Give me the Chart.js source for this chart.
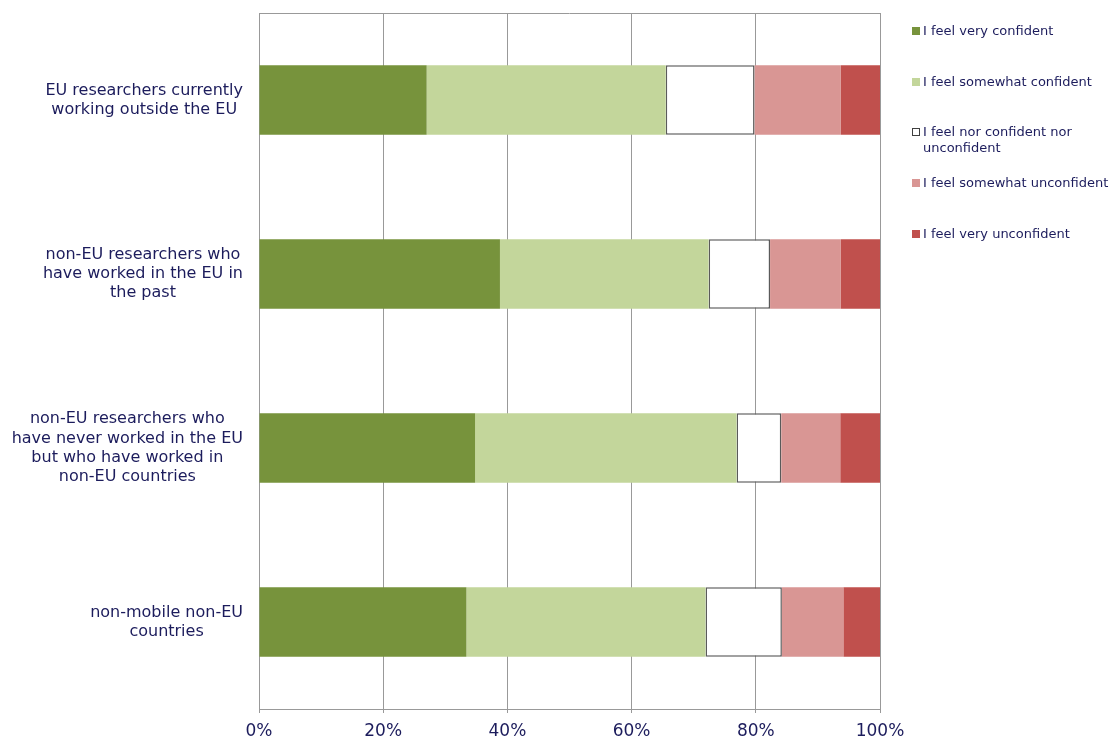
<!DOCTYPE html>
<html>
<head>
<meta charset="utf-8">
<script src="https://cdn.jsdelivr.net/npm/chart.js@4.4.1/dist/chart.umd.min.js"></script>
<style>
html,body{margin:0;padding:0;background:#fff;}
#wrap{width:1112px;height:738px;position:relative;}
</style>
</head>
<body>
<div id="wrap"><canvas id="c" width="1112" height="738"></canvas></div>
<script>
const categories = [
  ["EU researchers currently", "working outside the EU"],
  ["non-EU researchers who", "have worked in the EU in", "the past"],
  ["non-EU researchers who", "have never worked in the EU", "but who have worked in", "non-EU countries"],
  ["non-mobile non-EU", "countries"]
];
const seriesNames = [
  ["I feel very confident"],
  ["I feel somewhat confident"],
  ["I feel nor confident nor", "unconfident"],
  ["I feel somewhat unconfident"],
  ["I feel very unconfident"]
];
const veryConfident       = [27.0, 38.8, 34.8, 33.4];
const somewhatConfident   = [38.5, 33.6, 42.1, 38.5];
const neither             = [14.3,  9.9,  7.2, 12.3];
const somewhatUnconfident = [13.9, 11.4,  9.5,  9.9];
const veryUnconfident     = [ 6.3,  6.3,  6.4,  5.9];
const tickLabels = ["0%", "20%", "40%", "60%", "80%", "100%"];

const TEXT = '#1c1c5c';
const FONT = '"DejaVu Sans", Verdana, sans-serif';
const fills = ['#77933c', '#c3d69b', '#ffffff', '#d99694', '#c0504d'];
const borders = ['#77933c', '#c3d69b', '#5a5a5a', '#d99694', '#c0504d'];
const borderW = [0, 0, 1.5, 0, 0];
const values = [veryConfident, somewhatConfident, neither, somewhatUnconfident, veryUnconfident];

const datasets = values.map((v, i) => ({
  label: seriesNames[i].join(' '),
  data: v,
  backgroundColor: fills[i],
  borderColor: borders[i],
  borderWidth: borderW[i],
  borderSkipped: false,
  categoryPercentage: 0.4,
  barPercentage: 1.0
}));

const customDraw = {
  id: 'customDraw',
  afterDraw(chart) {
    const ctx = chart.ctx;
    const area = chart.chartArea;
    const ys = chart.scales.y;
    ctx.save();
    // top border line
    ctx.strokeStyle = '#999999';
    ctx.lineWidth = 1;
    ctx.beginPath();
    ctx.moveTo(area.left, area.top + 0.5);
    ctx.lineTo(area.right, area.top + 0.5);
    ctx.stroke();
    // category labels
    ctx.fillStyle = TEXT;
    ctx.font = '16px ' + FONT;
    ctx.textAlign = 'center';
    ctx.textBaseline = 'middle';
    const lh = 19.3;
    const rightEdge = area.left - 16;
    categories.forEach((lines, i) => {
      const yc = ys.getPixelForValue(i);
      let maxW = 0;
      lines.forEach(l => { maxW = Math.max(maxW, ctx.measureText(l).width); });
      const xc = rightEdge - maxW / 2;
      const y0 = yc - (lines.length - 1) * lh / 2;
      lines.forEach((l, k) => ctx.fillText(l, xc, y0 + k * lh));
    });
    // legend
    ctx.font = '13px ' + FONT;
    ctx.textAlign = 'left';
    const legY = [31, 82, 132, 183, 234];
    chart.data.datasets.forEach((ds, i) => {
      const y = legY[i];
      ctx.fillStyle = ds.backgroundColor;
      ctx.fillRect(912, y - 4, 8, 8);
      if (ds.borderWidth > 0) {
        ctx.strokeStyle = '#404040';
        ctx.lineWidth = 1;
        ctx.strokeRect(912.5, y - 3.5, 7, 7);
      }
      ctx.fillStyle = TEXT;
      seriesNames[i].forEach((l, k) => ctx.fillText(l, 923, y + 1 + k * 16));
    });
    ctx.restore();
  }
};

new Chart(document.getElementById('c'), {
  type: 'bar',
  data: { labels: categories.map(c => c.join(' ')), datasets },
  options: {
    indexAxis: 'y',
    responsive: false,
    animation: false,
    layout: { padding: { left: 259, right: 232, top: 13, bottom: 0 } },
    plugins: { legend: { display: false }, tooltip: { enabled: false } },
    scales: {
      x: {
        stacked: true,
        min: 0, max: 100,
        afterFit(s) { s.height = 29; },
        ticks: {
          stepSize: 20,
          color: TEXT,
          font: { family: FONT, size: 17 },
          padding: 8,
          callback: (v) => tickLabels[Math.round(v / 20)]
        },
        grid: { color: '#999999', lineWidth: 1, tickLength: 4, drawOnChartArea: true },
        border: { color: '#999999', width: 1 }
      },
      y: {
        stacked: true,
        afterFit(s) { s.width = 0; },
        ticks: { display: false },
        grid: { display: false, drawTicks: false },
        border: { display: true, color: '#999999', width: 1 }
      }
    }
  },
  plugins: [customDraw]
});
</script>
</body>
</html>
